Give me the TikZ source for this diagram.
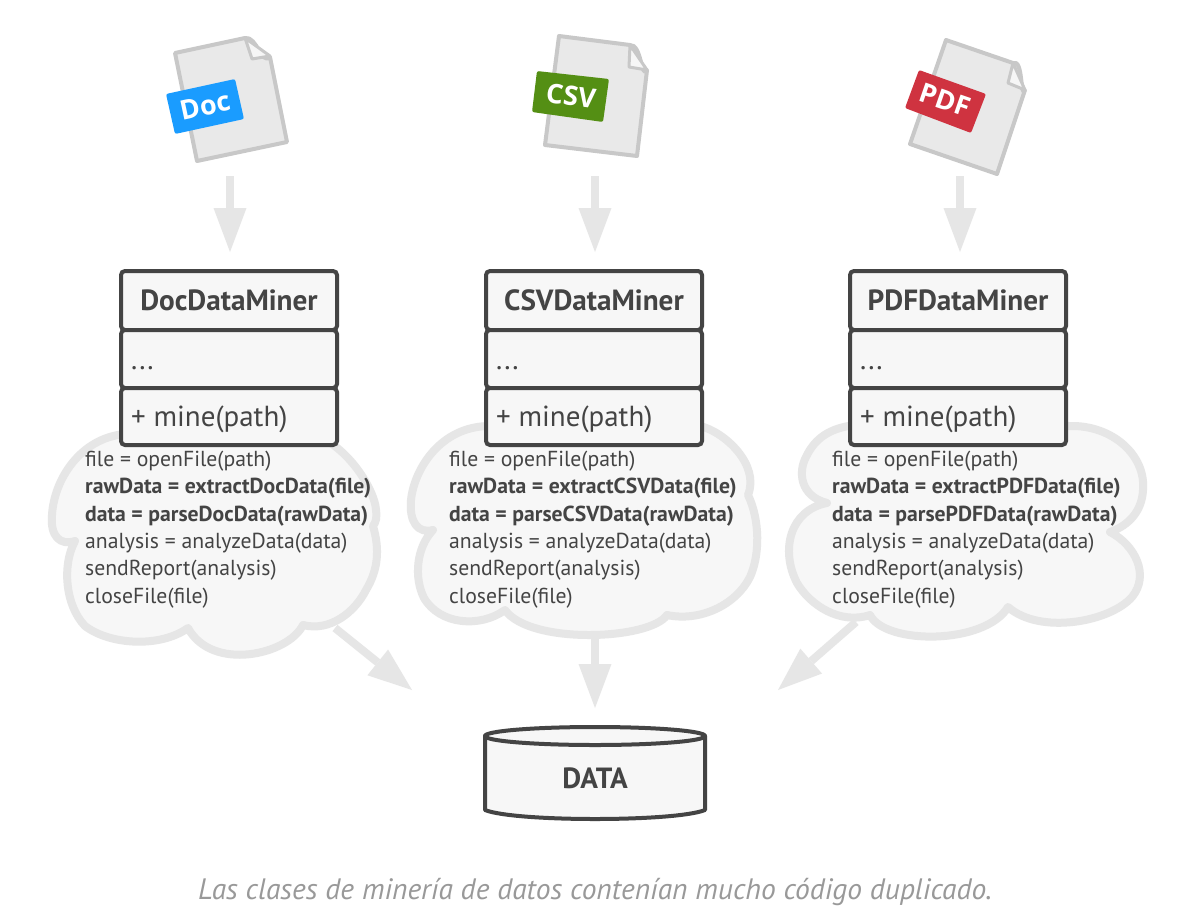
\documentclass[tikz,border=0pt]{standalone}
\usepackage{fontspec}
\setmainfont{PT Sans}
\newfontfamily\tagfont{Open Sans}
\usetikzlibrary{arrows.meta,shapes.geometric}
\definecolor{ink}{HTML}{444444}
\definecolor{paleline}{HTML}{E6E6E6}
\definecolor{palefill}{HTML}{F7F7F7}
\definecolor{fileline}{HTML}{C8C8C8}
\definecolor{filefill}{HTML}{E9E9E9}
\definecolor{docblue}{HTML}{1A9CFF}
\definecolor{csvgreen}{HTML}{548F14}
\definecolor{pdfred}{HTML}{CF3340}
\definecolor{captiongray}{HTML}{999999}
\tikzset{
  x=1pt,y=-1pt,
  flow/.style={draw=paleline,line width=8pt,-{Triangle[width=33pt,length=44pt,line width=0pt]}},
  cloudshape/.style={draw=paleline,fill=palefill,line width=8pt,line join=round},
  sheet/.style={draw=fileline,fill=filefill,line width=4pt,line join=round},
  foldline/.style={draw=fileline,line width=3pt,line join=round,fill=white!60!filefill},
  badge/.style={rounded corners=2pt},
  badgetext/.style={text=white,inner sep=0pt,font=\tagfont\bfseries\fontsize{27}{30}\selectfont},
  compartment/.style={draw=ink,fill=palefill,line width=4pt,rounded corners=4pt,minimum width=216pt,inner sep=0pt,outer sep=0pt,anchor=north west},
  titletext/.style={text=ink,inner sep=0pt,font=\bfseries\fontsize{29.2}{32}\selectfont},
  membertext/.style={text=ink,inner sep=0pt,anchor=base west,font=\fontsize{29}{32}\selectfont},
  codetext/.style={text=ink,inner sep=0pt,anchor=north west,align=left,font=\fontsize{21.7}{27.3}\selectfont},
  storeline/.style={draw=ink,fill=palefill,line width=4pt,line join=round},
}
\newcommand{\minerbox}[3]{%
  \node[compartment,minimum height=59pt] (#1title) at (#2,271) {};
  \node[compartment,minimum height=58pt] (#1attr) at (#2,330) {};
  \node[compartment,minimum height=57pt] (#1op) at (#2,388) {};
  \node[titletext] at (#1title.center) {#3};
  \node[membertext] at ([xshift=10pt]#1attr.west |- 0,369) {...};
  \node[membertext] at ([xshift=10pt]#1op.west |- 0,426) {+ mine(path)};
}
\begin{document}
\begin{tikzpicture}
\fill[white] (0,0) rectangle (1182,918);
\useasboundingbox (0,0) rectangle (1182,918);

% free ends of connectors
\coordinate (docin) at (230,176);   \coordinate (docto) at (230,252);
\coordinate (csvin) at (595,176);   \coordinate (csvto) at (595,252);
\coordinate (pdfin) at (960,176);   \coordinate (pdfto) at (960,252);
\coordinate (docout) at (335,628);  \coordinate (doctip) at (412,690);
\coordinate (csvout) at (595,636);  \coordinate (csvtip) at (595,708);
\coordinate (pdfout) at (856,622);  \coordinate (pdftip) at (778,690);

\draw[flow] (docin) -- (docto);
\draw[flow] (csvin) -- (csvto);
\draw[flow] (pdfin) -- (pdfto);
\draw[flow] (docout) -- (doctip);
\draw[flow] (csvout) -- (csvtip);
\draw[flow] (pdfout) -- (pdftip);

% clouds
\draw[cloudshape]
  (75,541) .. controls (60,546) and (50,536) .. (52,515)
  .. controls (54,480) and (80,438) .. (125,434)
  -- (300,430)
  .. controls (345,438) and (375,490) .. (376,510)
  .. controls (377,518) and (376,522) .. (373,526)
  .. controls (380,550) and (378,570) .. (366,590)
  .. controls (355,612) and (330,632) .. (303,625)
  .. controls (288,655) and (212,672) .. (188,628)
  .. controls (160,648) and (110,645) .. (85,626)
  .. controls (65,605) and (62,565) .. (75,541)
  -- cycle;
\draw[cloudshape]
  (433,530) .. controls (418,534) and (409,522) .. (411,500)
  .. controls (414,470) and (440,426) .. (490,426)
  -- (700,426)
  .. controls (725,432) and (760,465) .. (748,495)
  .. controls (760,520) and (760,555) .. (750,577)
  .. controls (736,605) and (700,622) .. (667,615)
  .. controls (650,640) and (530,645) .. (505,610)
  .. controls (480,628) and (440,625) .. (424,598)
  .. controls (414,578) and (416,548) .. (433,530)
  -- cycle;
\draw[cloudshape]
  (827,503) .. controls (800,496) and (798,472) .. (806,457)
  .. controls (815,438) and (830,428) .. (855,425)
  -- (1070,426)
  .. controls (1112,425) and (1146,455) .. (1143,490)
  .. controls (1142,510) and (1130,525) .. (1110,532)
  .. controls (1135,545) and (1150,575) .. (1132,597)
  .. controls (1110,622) and (1040,635) .. (1008,607)
  .. controls (985,645) and (885,645) .. (870,615)
  .. controls (840,625) and (810,605) .. (797,583)
  .. controls (780,550) and (790,510) .. (827,503)
  -- cycle;

% files
\draw[sheet] (175,53) -- (245,38) to[out=10,in=-135] (270,57) -- (287,142) -- (197,161) -- cycle;
\draw[foldline] (245,38) -- (252,59) -- (270,56) -- cycle;
\fill[docblue,badge] (166,94) -- (235,79) -- (244,119) -- (175,134) -- cycle;
\node[badgetext,rotate=12] (doctag) at (205,106) {Doc};

\draw[sheet] (559,36) -- (630,45) to[out=5,in=-120] (647,70) -- (637,156) -- (545,145) -- cycle;
\draw[foldline] (630,45) -- (629,67) -- (647,70) -- cycle;
\fill[csvgreen,badge] (537,71) -- (609,79) -- (603,122) -- (532,112) -- cycle;
\node[badgetext,rotate=-7] (csvtag) at (571,96) {CSV};

\draw[sheet] (946,40) -- (1013,63) to[out=25,in=-115] (1025,90) -- (997,174) -- (910,144) -- cycle;
\draw[foldline] (1013,63) -- (1008,83) -- (1025,90) -- cycle;
\fill[pdfred,badge] (919,70) -- (986,94) -- (971,133) -- (905,108) -- cycle;
\node[badgetext,rotate=-19] (pdftag) at (945,100) {PDF};

% class boxes
\minerbox{doc}{121}{DocDataMiner}
\minerbox{csv}{486}{CSVDataMiner}
\minerbox{pdf}{850}{PDFDataMiner}

% code
\node[codetext] (doccode) at (85,451) {file = openFile(path)\\\textbf{rawData = extractDocData(file)}\\\textbf{data = parseDocData(rawData)}\\analysis = analyzeData(data)\\sendReport(analysis)\\closeFile(file)};
\node[codetext] (csvcode) at (449,451) {file = openFile(path)\\\textbf{rawData = extractCSVData(file)}\\\textbf{data = parseCSVData(rawData)}\\analysis = analyzeData(data)\\sendReport(analysis)\\closeFile(file)};
\node[codetext] (pdfcode) at (832,451) {file = openFile(path)\\\textbf{rawData = extractPDFData(file)}\\\textbf{data = parsePDFData(rawData)}\\analysis = analyzeData(data)\\sendReport(analysis)\\closeFile(file)};

% data store
\path[storeline] (485,736) -- (485,810) .. controls (515,822) and (675,822) .. (705,810) -- (705,736) -- cycle;
\draw[storeline] (595,736) ellipse [x radius=110,y radius=9];
\node[titletext] (data) at (595,778) {DATA};

% caption
\node[inner sep=0pt,text=captiongray,font=\itshape\fontsize{29.5}{32}\selectfont] (caption) at (595,892) {Las clases de minería de datos contenían mucho código duplicado.};
\end{tikzpicture}
\end{document}
